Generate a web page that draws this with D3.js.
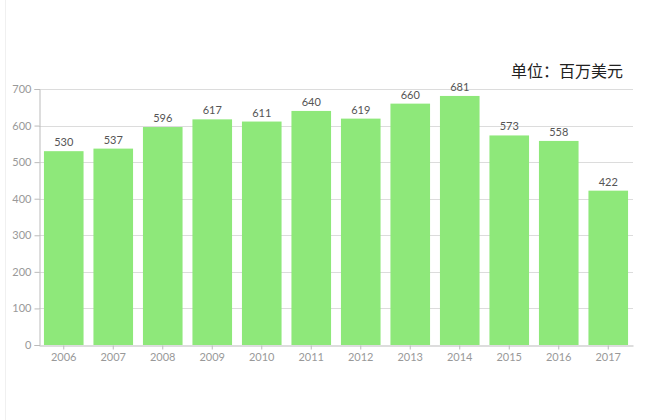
<!DOCTYPE html>
<html><head><meta charset="utf-8">
<script src="https://cdn.jsdelivr.net/npm/d3@7"></script>
<style>body{margin:0;background:#fff}svg{display:block}</style>
</head><body><svg width="660" height="420"></svg>
<script>
const years = ["2006","2007","2008","2009","2010","2011","2012","2013","2014","2015","2016","2017"];
const values = [530,537,596,617,611,640,619,660,681,573,558,422];
const yTicks = [0,100,200,300,400,500,600,700];
const unitLabel = "单位：百万美元";

(function(){
const svg = d3.select("svg");
const mLeft = 39, mRight = 633, mTop = 89, mBottom = 345;
svg.append("line").attr("x1",5.5).attr("x2",5.5).attr("y1",0).attr("y2",420).attr("stroke","#f0f0f0");

const x = d3.scaleBand().domain(years).range([mLeft,mRight]).paddingInner(0.2).paddingOuter(0.1);
const y = d3.scaleLinear().domain([0,700]).range([mBottom,mTop]);

svg.append("g").selectAll("line").data(yTicks.filter(d=>d>0)).join("line")
  .attr("x1",mLeft).attr("x2",mRight).attr("y1",d=>Math.round(y(d))+0.5).attr("y2",d=>Math.round(y(d))+0.5)
  .attr("stroke","#dcdcdc");

svg.append("g").selectAll("rect").data(values).join("rect")
  .attr("x",(d,i)=>x(years[i])).attr("width",x.bandwidth())
  .attr("y",d=>y(d)).attr("height",d=>mBottom-y(d)).attr("fill","#8ee87a");

svg.append("g").selectAll("text").data(values).join("text")
  .attr("x",(d,i)=>x(years[i])+x.bandwidth()/2).attr("y",d=>y(d)-5)
  .attr("text-anchor","middle").attr("font-family","Lato, 'Open Sans', sans-serif").attr("font-size",11)
  .attr("fill","#555").text(d=>d);

const ya = svg.append("g").attr("transform",`translate(${mLeft+0.5},0)`)
  .call(d3.axisLeft(y).tickValues(yTicks).tickSize(5).tickPadding(3));
ya.select(".domain").attr("stroke","#bbb");
ya.selectAll(".tick line").attr("stroke","#bbb");
ya.selectAll("text").attr("fill","#999").attr("font-size",11).attr("font-family","Lato, 'Open Sans', sans-serif");

const xa = svg.append("g").attr("transform",`translate(0,${mBottom+0.5})`)
  .call(d3.axisBottom(x).tickSize(4).tickSizeOuter(0).tickPadding(4));
xa.select(".domain").attr("stroke","#bbb");
xa.selectAll(".tick line").attr("stroke","#bbb");
xa.selectAll("text").attr("fill","#999").attr("font-size",11).attr("font-family","Lato, 'Open Sans', sans-serif");

svg.append("text").attr("x",623).attr("y",77).attr("text-anchor","end")
  .attr("font-family","'Noto Sans CJK SC', sans-serif").attr("font-size",16).attr("fill","#222")
  .text(unitLabel);
})();
</script></body></html>
